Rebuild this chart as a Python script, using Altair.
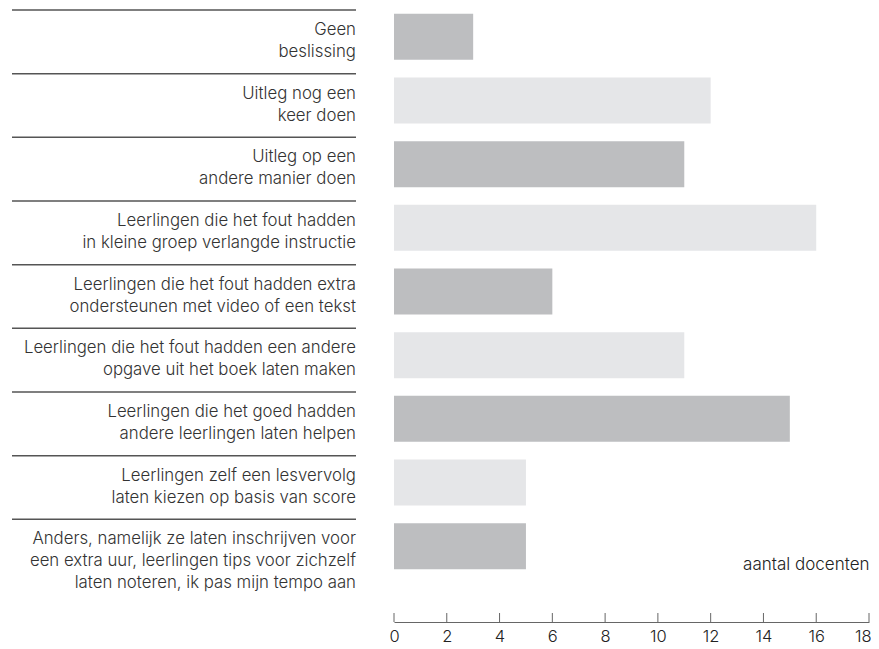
import altair as alt
import pandas as pd

categories = [
    "Geen\nbeslissing",
    "Uitleg nog een\nkeer doen",
    "Uitleg op een\nandere manier doen",
    "Leerlingen die het fout hadden\nin kleine groep verlangde instructie",
    "Leerlingen die het fout hadden extra\nondersteunen met video of een tekst",
    "Leerlingen die het fout hadden een andere\nopgave uit het boek laten maken",
    "Leerlingen die het goed hadden\nandere leerlingen laten helpen",
    "Leerlingen zelf een lesvervolg\nlaten kiezen op basis van score",
    "Anders, namelijk ze laten inschrijven voor\neen extra uur, leerlingen tips voor zichzelf\nlaten noteren, ik pas mijn tempo aan",
]
values = [3, 12, 11, 16, 6, 11, 15, 5, 5]
tick_values = [0, 2, 4, 6, 8, 10, 12, 14, 16, 18]

df = pd.DataFrame({
    "cat": categories,
    "value": values,
    "shade": [i % 2 for i in range(len(categories))],
})
ticks_df = pd.DataFrame({"t": tick_values})

FONT = "Inter"
W, H = 475, 573

xscale = alt.Scale(domain=[0, 18], nice=False, zero=True)
yscale = alt.Scale(domain=categories, paddingInner=0, paddingOuter=0)

bars = alt.Chart(df).mark_bar(height=46, yOffset=-5).encode(
    x=alt.X("value:Q", scale=xscale,
            axis=alt.Axis(values=tick_values, ticks=False, tickSize=0, grid=False,
                          domainColor="#666666", domainWidth=1, offset=39,
                          labelPadding=6, labelFont=FONT, labelFontSize=16.5,
                          labelFontWeight=300,
                          labelAlign={"condition": {"test": "datum.value == 18", "value": "right"},
                                      "value": "center"},
                          labelOffset={"condition": {"test": "datum.value == 18", "value": 2},
                                       "value": 0},
                          labelColor="#222222", labelFlush=False,
                          title="aantal docenten", titleFont=FONT, titleFontSize=17,
                          titleFontWeight=300, titleColor="#222222",
                          titleAnchor="end", titleAlign="right", titleX=W,
                          titleY=-58, titleBaseline="middle")),
    y=alt.Y("cat:N", scale=yscale, sort=None, axis=None),
    color=alt.Color("shade:O", scale=alt.Scale(domain=[0, 1], range=["#bdbec0", "#e5e6e8"]),
                    legend=None),
)

labels = alt.Chart(df).mark_text(
    align="right", baseline="top", lineBreak="\n", lineHeight=22,
    font=FONT, fontSize=16.8, fontWeight=300, color="#333333", dy=12,
).encode(
    x=alt.value(-38),
    y=alt.Y("cat:N", scale=yscale, sort=None, bandPosition=0, axis=None),
    text="cat:N",
)

seps = alt.Chart(df).mark_rule(color="#555555", strokeWidth=1.5).encode(
    x=alt.value(-382), x2=alt.value(-38),
    y=alt.Y("cat:N", scale=yscale, sort=None, bandPosition=0, axis=None),
)

tick_marks = alt.Chart(ticks_df).mark_rule(color="#666666", strokeWidth=1).encode(
    x=alt.X("t:Q", scale=xscale),
    y=alt.value(H + 30), y2=alt.value(H + 39),
)

chart = alt.layer(seps, labels, bars, tick_marks).properties(
    width=W, height=H,
    autosize=alt.AutoSizeParams(type="none"),
    padding={"left": 386, "top": 2, "right": 2, "bottom": 63},
).configure_view(stroke=None)

chart.save("out.html", embed_options={"renderer": "svg", "actions": False})
